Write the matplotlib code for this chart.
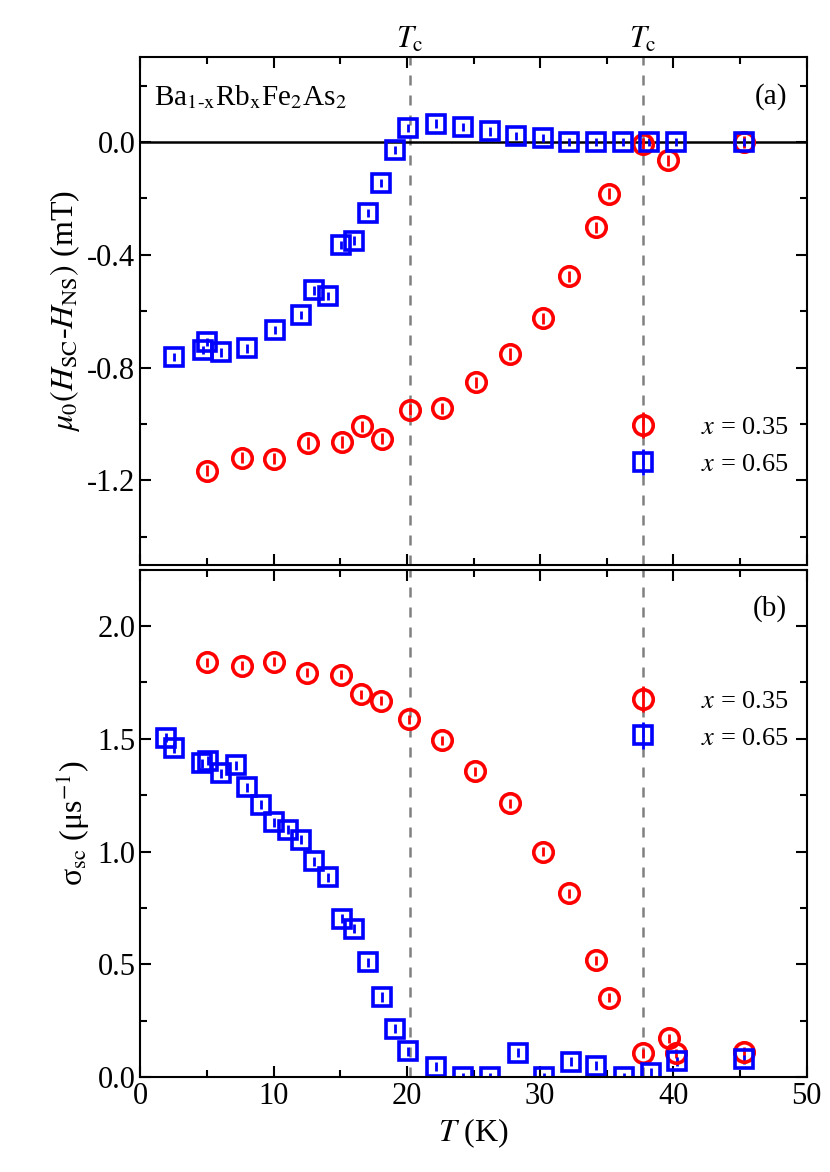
import matplotlib.pyplot as plt
import numpy as np

plt.rcParams['font.family'] = ['Liberation Serif', 'DejaVu Serif']
plt.rcParams['mathtext.fontset'] = 'stix'

# (a) field shift, x = 0.35
t_a35 = [5.0, 7.66, 10.0, 12.56, 15.1, 16.6, 18.1, 20.2, 22.6, 25.2, 27.7, 30.2, 32.2, 34.2, 35.2, 37.7, 39.6, 45.3]
h_a35 = [-1.166, -1.12, -1.123, -1.068, -1.064, -1.009, -1.052, -0.95, -0.944, -0.852, -0.752, -0.625,
         -0.477, -0.302, -0.183, -0.006, -0.065, 0.0]
# (a) field shift, x = 0.65
t_a65 = [2.5, 4.74, 5.04, 6.04, 8.0, 10.1, 12.06, 13.06, 14.06, 15.03, 16.05, 17.1, 18.05, 19.1, 20.1,
         22.15, 24.2, 26.2, 28.2, 30.2, 32.2, 34.2, 36.2, 38.2, 40.2, 45.3]
h_a65 = [-0.763, -0.737, -0.71, -0.746, -0.732, -0.666, -0.613, -0.526, -0.546, -0.366, -0.35, -0.251,
         -0.145, -0.029, 0.049, 0.065, 0.053, 0.038, 0.021, 0.015, 0.0, 0.0, 0.0, 0.0, 0.0, 0.0]

# (b) sigma_sc, x = 0.35
t_b35 = [5.0, 7.66, 10.06, 12.5, 15.08, 16.55, 18.08, 20.17, 22.64, 25.1, 27.7, 30.2, 32.2, 34.2, 35.2,
         37.7, 39.7, 40.2, 45.3]
s_b35 = [1.84, 1.823, 1.842, 1.792, 1.783, 1.697, 1.668, 1.586, 1.494, 1.355, 1.215, 1.0, 0.815, 0.518,
         0.351, 0.105, 0.173, 0.105, 0.112]
# (b) sigma_sc, x = 0.65
t_b65 = [1.9, 2.5, 4.64, 5.07, 6.04, 7.17, 8.04, 9.04, 10.06, 11.06, 12.06, 13.06, 14.06, 15.1, 16.07,
         17.08, 18.1, 19.1, 20.1, 22.15, 24.2, 26.2, 28.3, 30.3, 32.3, 34.2, 36.3, 38.3, 40.3, 45.3]
s_b65 = [1.505, 1.459, 1.392, 1.403, 1.348, 1.383, 1.286, 1.207, 1.129, 1.096, 1.052, 0.956, 0.886, 0.701,
         0.657, 0.509, 0.355, 0.214, 0.115, 0.046, 0.0, 0.0, 0.108, 0.0, 0.067, 0.05, 0.0, 0.018, 0.071, 0.078]

tc_vals = [20.2, 37.7]

fig = plt.figure(figsize=(8.3, 11.72), dpi=100)
ax1 = fig.add_axes([0.169, 0.518, 0.803, 0.433])
ax2 = fig.add_axes([0.169, 0.081, 0.803, 0.433])

red_kw = dict(fmt='o', ms=14, mfc='none', mec='red', mew=2.6, ecolor='red', elinewidth=2, capsize=0)
blue_kw = dict(fmt='s', ms=13, mfc='none', mec='blue', mew=2.6, ecolor='blue', elinewidth=2, capsize=0)

ax1.axhline(0, color='black', lw=1.8, zorder=1)
ax1.errorbar(t_a35, h_a35, yerr=0.02, label=r'$x$ = 0.35', **red_kw)
ax1.errorbar(t_a65, h_a65, yerr=0.015, label=r'$x$ = 0.65', **blue_kw)
ax2.errorbar(t_b35, s_b35, yerr=0.02, label=r'$x$ = 0.35', **red_kw)
ax2.errorbar(t_b65, s_b65, yerr=0.02, label=r'$x$ = 0.65', **blue_kw)

for ax, leg_y in ((ax1, 0.33), (ax2, 0.80)):
    for tc in tc_vals:
        ax.axvline(tc, color='gray', ls=(0, (4, 4)), lw=1.8, zorder=0)
    ax.set_xlim(0, 50)
    ax.set_xticks([0, 10, 20, 30, 40, 50])
    ax.set_xticks(np.arange(0, 51, 5), minor=True)
    ax.tick_params(which='both', direction='in', top=True, right=True, labelsize=22, width=1.5)
    ax.tick_params(which='major', length=8)
    ax.tick_params(which='minor', length=5)
    for sp in ax.spines.values():
        sp.set_linewidth(1.5)
    ax.legend(loc='upper right', frameon=False, fontsize=19, handletextpad=1.2, borderaxespad=0.3,
              bbox_to_anchor=(1.0, leg_y))

ax1.set_ylim(-1.5, 0.3)
ax1.set_yticks([-1.2, -0.8, -0.4, 0.0])
ax1.set_yticklabels(['-1.2', '-0.8', '-0.4', '0.0'])
ax1.set_yticks(np.arange(-1.4, 0.31, 0.2), minor=True)
ax1.set_xticklabels([])
ax1.set_ylabel(r'$\mu_0(H_{\rm SC}$-$H_{\rm NS})$ (mT)', fontsize=23)
ax1.text(0.02, 0.95, r'Ba$_{\mathrm{1}\text{-}\mathrm{x}}$Rb$_{\mathrm{x}}$Fe$_2$As$_2$', transform=ax1.transAxes,
         fontsize=21, va='top')
ax1.text(0.97, 0.95, '(a)', transform=ax1.transAxes, fontsize=21, va='top', ha='right')
for tc in tc_vals:
    ax1.text(tc, 0.31, r'$T_{\rm c}$', fontsize=22, ha='center', va='bottom')

ax2.set_ylim(0, 2.25)
ax2.set_yticks([0, 0.5, 1.0, 1.5, 2.0])
ax2.set_yticklabels(['0.0', '0.5', '1.0', '1.5', '2.0'])
ax2.set_yticks(np.arange(0, 2.26, 0.25), minor=True)
ax2.set_ylabel(r'σ$_{\rm sc}$ (μs$^{-1}$)', fontsize=23)
ax2.set_xlabel(r'$T$ (K)', fontsize=23)
ax2.text(0.97, 0.95, '(b)', transform=ax2.transAxes, fontsize=21, va='top', ha='right')

fig.savefig('out.png', dpi=100)
